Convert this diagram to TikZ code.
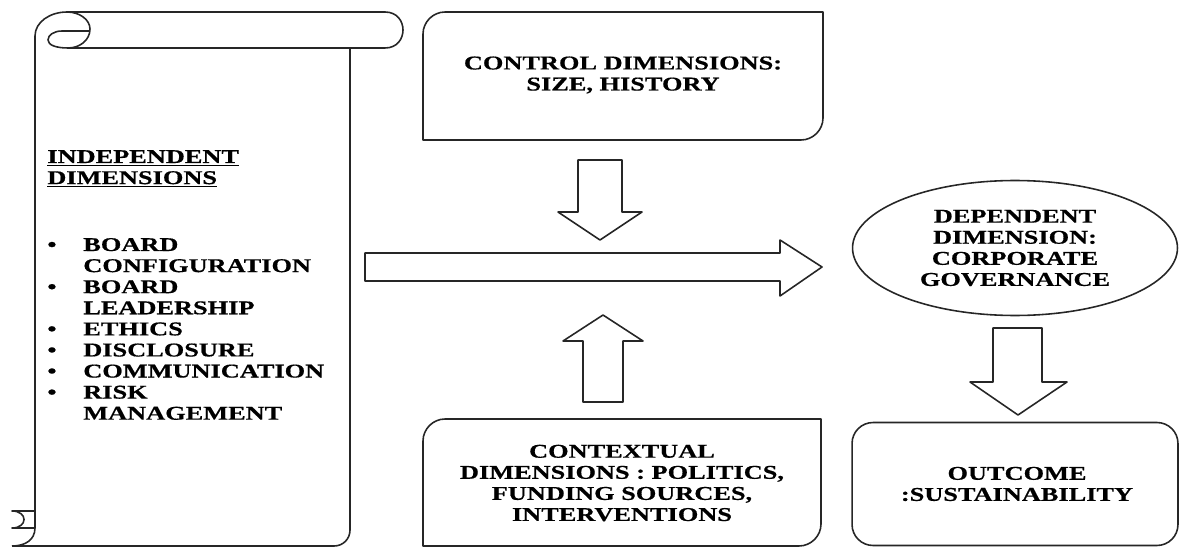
\documentclass[tikz,border=0pt]{standalone}
\usepackage{fontspec}
\setmainfont{Liberation Serif}[FakeStretch=1.35, BoldFeatures={FakeBold=0.6}]
\usetikzlibrary{shapes.geometric}

\tikzset{
  outline/.style={draw=black!85, line width=0.9pt},
  label text/.style={font=\fontsize{11.1}{12}\selectfont\bfseries, text=black, align=center, inner sep=0pt},
  blockarrow/.style={outline, fill=white},
}

\begin{document}
\begin{tikzpicture}[x=0.02cm, y=-0.02cm, line join=round]
  \useasboundingbox (0,0) rectangle (1179,547);

  % Scroll with the independent dimensions
  \draw[outline] (35,528) -- (35,36) .. controls (35,22) and (50,12) .. (67,12) -- (385,12)
    .. controls (409,12) and (409,48) .. (385,48) -- (68,48);
  \draw[outline] (67,12) .. controls (80,12) and (90,20) .. (90,29)
    .. controls (90,40) and (80,48) .. (68,48)
    .. controls (56,48) and (48,45) .. (48,40)
    .. controls (48,35) and (54,31) .. (62,31) -- (90,31);
  \draw[outline] (350,48) -- (350,530) .. controls (350,539) and (343,546) .. (334,546) -- (12,546);
  \draw[outline] (35,528) .. controls (35,540) and (25,546) .. (12,546);
  \draw[outline] (35,511) -- (12,511) .. controls (28,511) and (28,528) .. (12,528) -- (35,528);

  \node[label text, align=left, anchor=base west] (indephead) at (47,163)
    {\begin{tabular}[t]{@{}l@{}}\underline{INDEPENDENT}\\\underline{DIMENSIONS}\end{tabular}};
  \node[label text, align=left, anchor=base west] (indeplist) at (47,251)
    {\begin{tabular}[t]{@{}p{0.72cm}@{}l@{}}
      \textbullet & BOARD\\
                  & CONFIGURATION\\
      \textbullet & BOARD\\
                  & LEADERSHIP\\
      \textbullet & ETHICS\\
      \textbullet & DISCLOSURE\\
      \textbullet & COMMUNICATION\\
      \textbullet & RISK\\
                  & MANAGEMENT
    \end{tabular}};

  % Control dimensions
  \draw[outline] (423,140) -- (423,34) .. controls (423,22) and (433,12) .. (445,12) -- (823,12)
    -- (823,118) .. controls (823,130) and (813,140) .. (801,140) -- cycle;
  \node[label text] (control) at (623,75) {CONTROL DIMENSIONS:\\SIZE, HISTORY};

  % Contextual dimensions
  \draw[outline] (423,546) -- (423,441) .. controls (423,429) and (433,419) .. (445,419) -- (821,419)
    -- (821,524) .. controls (821,536) and (811,546) .. (799,546) -- cycle;
  \node[label text] (context) at (622,483)
    {CONTEXTUAL\\DIMENSIONS : POLITICS,\\FUNDING SOURCES,\\INTERVENTIONS};

  % Dependent dimension and outcome
  \node[outline, ellipse, minimum width=6.5cm, minimum height=2.7cm, inner sep=0pt] (depend) at (1015,248) {};
  \node[label text] (dependtext) at (1015,248) {DEPENDENT\\DIMENSION:\\CORPORATE\\GOVERNANCE};
  \node[outline, rounded corners=0.42cm, minimum width=6.52cm, minimum height=2.46cm, inner sep=0pt] (outcome) at (1015,484) {};
  \node[label text] (outcometext) at (1017,484) {OUTCOME\\:SUSTAINABILITY};

  % Block arrows
  \draw[blockarrow] (578,160) -- (622,160) -- (622,212) -- (642,212) -- (600,240)
    -- (558,212) -- (578,212) -- cycle;
  \draw[blockarrow] (583,402) -- (623,402) -- (623,341) -- (643,341) -- (603,315)
    -- (563,341) -- (583,341) -- cycle;
  \draw[blockarrow] (365,253) -- (780,253) -- (780,240) -- (822,267) -- (780,296)
    -- (780,281) -- (365,281) -- cycle;
  \draw[blockarrow] (993,328) -- (1042,328) -- (1042,382) -- (1067,382) -- (1018,415)
    -- (970,382) -- (993,382) -- cycle;
\end{tikzpicture}
\end{document}
